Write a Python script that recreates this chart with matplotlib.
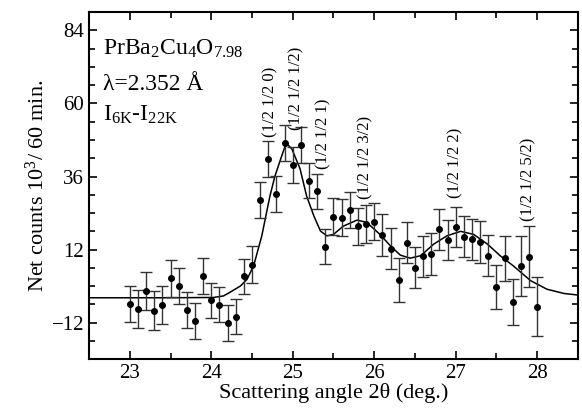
import matplotlib
matplotlib.use("Agg")
import numpy as np
from matplotlib import pyplot as plt
from matplotlib.ticker import MultipleLocator

plt.rcParams["font.family"] = ["Liberation Serif", "DejaVu Serif"]
plt.rcParams["mathtext.fontset"] = "custom"
plt.rcParams["mathtext.rm"] = "Liberation Serif"
plt.rcParams["mathtext.it"] = "Liberation Serif:italic"

# measured points: angle, net counts, error
angle = [23.0, 23.1, 23.2, 23.3, 23.4, 23.5, 23.6, 23.7, 23.8, 23.9,
         24.0, 24.1, 24.2, 24.3, 24.4, 24.5, 24.6, 24.7, 24.8, 24.9,
         25.0, 25.1, 25.2, 25.3, 25.4, 25.5, 25.6, 25.7, 25.8, 25.9,
         26.0, 26.1, 26.2, 26.3, 26.4, 26.5, 26.6, 26.7, 26.8, 26.9,
         27.0, 27.1, 27.2, 27.3, 27.4, 27.5, 27.6, 27.7, 27.8, 27.9, 28.0]
counts = [-5.8, -7.5, -1.5, -8.1, -6.2, 2.6, 0.1, -7.8, -11.5, 3.3,
          -4.6, -6.1, -12.1, -10.0, 3.2, 7.1, 28.3, 41.8, 30.2, 47.0,
          39.8, 46.3, 34.6, 31.1, 13.0, 22.8, 22.5, 25.0, 19.6, 20.3,
          21.2, 16.7, 12.3, 2.0, 14.3, 6.0, 9.8, 10.5, 18.7, 15.1,
          19.4, 16.3, 15.4, 14.5, 10.0, -0.3, 9.1, -5.2, 6.6, 9.7, -6.7]
errors = [6.0, 6.3, 6.2, 6.4, 6.3, 6.1, 6.0, 5.9, 5.9, 5.9,
          5.8, 5.8, 5.8, 5.7, 5.7, 6.0, 5.8, 6.0, 5.9, 6.0,
          5.9, 5.8, 5.8, 5.7, 5.8, 6.1, 6.1, 6.0, 6.2, 6.2,
          6.1, 6.9, 6.8, 7.3, 6.7, 6.7, 6.7, 6.8, 6.7, 6.6,
          6.7, 6.8, 6.8, 6.8, 6.7, 7.1, 7.5, 7.6, 9.8, 9.9, 9.8]

# fit curve
fit_x = [22.5, 23.5, 24.03, 24.15, 24.23, 24.36, 24.44, 24.52, 24.62, 24.72,
         24.78, 24.85, 24.92, 24.99, 25.09, 25.17, 25.26, 25.34, 25.42, 25.5,
         25.62, 25.79, 25.91, 26.07, 26.2, 26.32, 26.44, 26.57, 26.73, 26.89,
         27.06, 27.22, 27.39, 27.55, 27.71, 27.92, 28.12, 28.33, 28.5]
fit_y = [-3.8, -3.8, -3.7, -3.2, -2.0, 0.1, 2.3, 6.7, 16.5, 29.6,
         36.0, 41.6, 47.0, 45.0, 38.5, 29.6, 23.0, 18.1, 16.5, 17.0,
         19.7, 21.7, 20.9, 17.0, 13.2, 10.2, 9.2, 10.0, 13.8, 16.5,
         18.0, 17.0, 13.8, 9.9, 6.6, 1.8, -1.0, -2.4, -2.9]

peak_labels = ["(1/2 1/2 0)", "(1/2 1/2 1/2)", "(1/2 1/2 1)",
               "(1/2 1/2 3/2)", "(1/2 1/2 2)", "(1/2 1/2 5/2)"]
peak_x = [24.73, 25.04, 25.37, 25.89, 27.0, 27.89]
peak_y = [49.1, 51.4, 38.3, 28.5, 29.1, 21.3]

fig = plt.figure(figsize=(5.82, 4.13), dpi=100)
ax = fig.add_axes([0.153, 0.13, 0.84, 0.841])

ax.plot(fit_x, fit_y, "k-", lw=1.1)
ax.errorbar(angle, counts, yerr=errors, fmt="o", color="k", ms=4,
            ecolor="#333333", elinewidth=1.0, capsize=4, capthick=1.0)

for label, x, y in zip(peak_labels, peak_x, peak_y):
    ax.text(x, y, label, rotation=90, ha="center", va="bottom", fontsize=12)

ax.text(22.67, 75.9, r"PrBa$_2$Cu$_4$O$_{7.98}$", fontsize=17, va="baseline")
ax.text(22.67, 64.5, "λ=2.352 Å", fontsize=17, va="baseline")
ax.text(22.67, 54.3, r"I$_{\mathrm{6K}}$-I$_{\mathrm{22K}}$", fontsize=17,
        va="baseline")

ax.set_xlim(22.5, 28.5)
ax.set_ylim(-24, 90)
ax.set_xticks([23, 24, 25, 26, 27, 28])
ax.set_yticks([-12, 12, 36, 60, 84])
ax.xaxis.set_minor_locator(MultipleLocator(0.5))
ax.yaxis.set_minor_locator(MultipleLocator(6))
ax.tick_params(which="both", direction="in", top=True, right=True,
               labelsize=15, width=1.2)
ax.tick_params(which="major", length=6)
ax.tick_params(which="minor", length=4)
for s in ax.spines.values():
    s.set_linewidth(1.5)

ax.set_xlabel("Scattering angle 2θ (deg.)", fontsize=16, labelpad=0)
ax.set_ylabel("Net counts 10$^3$/ 60 min.", fontsize=16, labelpad=2)

fig.savefig("out.png", dpi=100)
